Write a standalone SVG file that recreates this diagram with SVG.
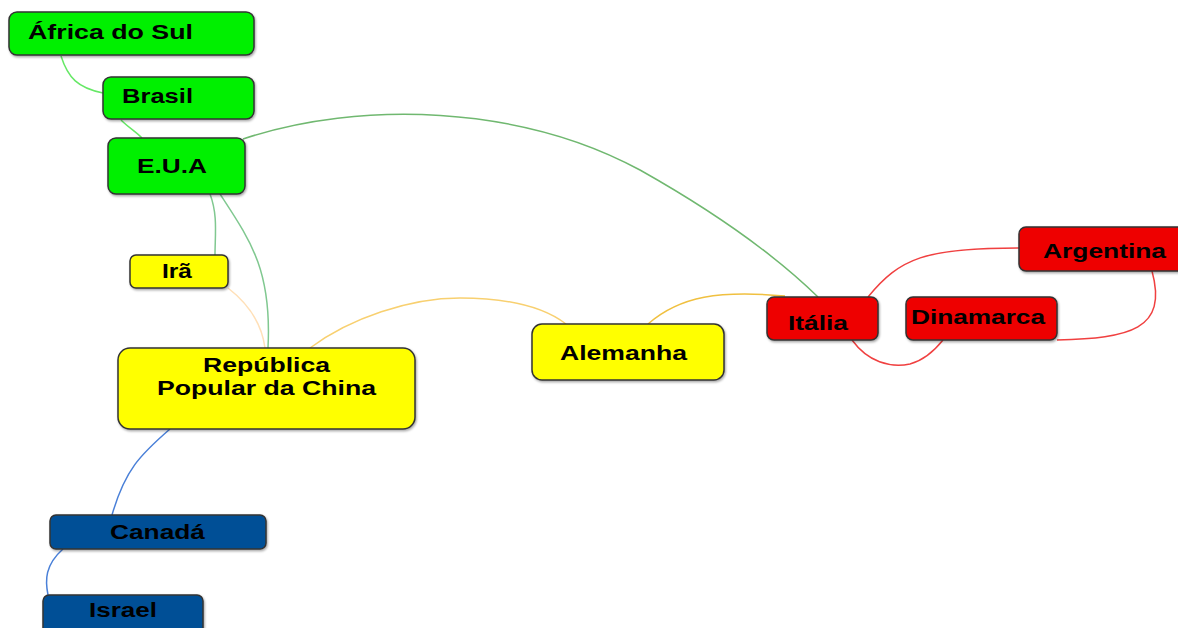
<svg xmlns="http://www.w3.org/2000/svg" width="1178" height="628" viewBox="0 0 1178 628">
<style>
.n rect{stroke:#333;stroke-width:1.5}
.g rect{fill:#00f000}
.y rect{fill:#ffff00}
.r rect{fill:#ee0000}
.b rect{fill:#005096}
text{font-family:"Liberation Sans",Arial,sans-serif;font-weight:bold;font-size:20px;fill:#000}
.c path{fill:none;stroke-width:1.5}
</style>
<defs>
<filter id="sh" x="-10%" y="-10%" width="120%" height="130%">
<feDropShadow dx="1" dy="1.5" stdDeviation="1" flood-color="#000" flood-opacity="0.35"/>
</filter>
</defs>
<rect width="1178" height="628" fill="#fff"/>
<g class="c" id="connectors">
<path d="M61,56 C68,78 78,88 103,93" stroke="#66e866"/>
<path d="M121,120 C128,127 136,132 142,138" stroke="#66e866"/>
<path d="M243,139 C360,100 520,105 640,170 C720,215 780,260 818,297" stroke="#70b870"/>
<path d="M210,194 C218,215 215,235 215,255" stroke="#80c890"/>
<path d="M220,194 C250,240 272,270 268,348" stroke="#80c890"/>
<path d="M228,288 C250,305 262,325 265,348" stroke="#ffe0b8"/>
<path d="M310,348 C350,318 410,298 460,298 C510,298 545,308 566,324" stroke="#f8d070"/>
<path d="M648,324 C680,296 720,290 785,296" stroke="#f0c040"/>
<path d="M868,297 C900,258 925,248 1019,248" stroke="#f04040"/>
<path d="M852,340 C868,362 890,368 910,364 C925,360 935,350 943,340" stroke="#f04040"/>
<path d="M1057,340 C1130,338 1168,330 1152,271" stroke="#f04040"/>
<path d="M170,429 C140,455 125,470 112,515" stroke="#4a80d8"/>
<path d="M63,549 C45,565 45,580 48,595" stroke="#4a80d8"/>
</g>
<g id="africa" class="n g"><rect x="9" y="12" width="245" height="43" rx="8" filter="url(#sh)"/><text x="28" y="39" textLength="165" lengthAdjust="spacingAndGlyphs">África do Sul</text></g>
<g id="brasil" class="n g"><rect x="103" y="77" width="151" height="42" rx="8" filter="url(#sh)"/><text x="122" y="103" textLength="71" lengthAdjust="spacingAndGlyphs">Brasil</text></g>
<g id="eua" class="n g"><rect x="108" y="138" width="137" height="56" rx="8" filter="url(#sh)"/><text x="137" y="173" textLength="70" lengthAdjust="spacingAndGlyphs">E.U.A</text></g>
<g id="ira" class="n y"><rect x="130" y="255" width="98" height="33" rx="6" filter="url(#sh)"/><text x="162" y="278" textLength="30" lengthAdjust="spacingAndGlyphs">Irã</text></g>
<g id="china" class="n y"><rect x="118" y="348" width="297" height="81" rx="12" filter="url(#sh)"/><text x="203" y="372" textLength="127" lengthAdjust="spacingAndGlyphs">República</text><text x="157" y="395" textLength="219" lengthAdjust="spacingAndGlyphs">Popular da China</text></g>
<g id="alemanha" class="n y"><rect x="532" y="324" width="192" height="56" rx="10" filter="url(#sh)"/><text x="560" y="360" textLength="127" lengthAdjust="spacingAndGlyphs">Alemanha</text></g>
<g id="italia" class="n r"><rect x="767" y="297" width="111" height="43" rx="7" filter="url(#sh)"/><text x="788" y="330" textLength="60" lengthAdjust="spacingAndGlyphs">Itália</text></g>
<g id="dinamarca" class="n r"><rect x="906" y="297" width="151" height="43" rx="7" filter="url(#sh)"/><text x="911" y="324" textLength="134" lengthAdjust="spacingAndGlyphs">Dinamarca</text></g>
<g id="argentina" class="n r"><rect x="1019" y="227" width="170" height="44" rx="7" filter="url(#sh)"/><text x="1043" y="258" textLength="123" lengthAdjust="spacingAndGlyphs">Argentina</text></g>
<g id="canada" class="n b"><rect x="50" y="515" width="216" height="34" rx="6" filter="url(#sh)"/><text x="110" y="539" textLength="95" lengthAdjust="spacingAndGlyphs">Canadá</text></g>
<g id="israel" class="n b"><rect x="43" y="595" width="160" height="40" rx="6" filter="url(#sh)"/><text x="89" y="617" textLength="68" lengthAdjust="spacingAndGlyphs">Israel</text></g>
</svg>
